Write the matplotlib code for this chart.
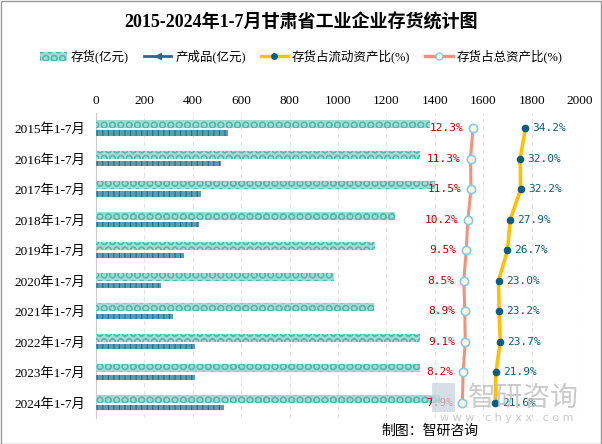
import numpy as np
import matplotlib.pyplot as plt
from matplotlib.lines import Line2D
from matplotlib.patches import Patch, Rectangle

plt.rcParams['font.family'] = ['Liberation Serif', 'Noto Sans CJK SC', 'DejaVu Sans']
plt.rcParams['hatch.linewidth'] = 0.8

years = ['2015年1-7月', '2016年1-7月', '2017年1-7月', '2018年1-7月', '2019年1-7月',
         '2020年1-7月', '2021年1-7月', '2022年1-7月', '2023年1-7月', '2024年1-7月']
inventory = [1380, 1339, 1401, 1236, 1153, 983, 1149, 1339, 1339, 1421]
finished = [545, 517, 434, 426, 364, 269, 318, 409, 409, 529]
ratio_current = [34.2, 32.0, 32.2, 27.9, 26.7, 23.0, 23.2, 23.7, 21.9, 21.6]
ratio_total = [12.3, 11.3, 11.5, 10.2, 9.5, 8.5, 8.9, 9.1, 8.2, 7.9]

c_inv = '#9edcd4'
c_inv_edge = '#56b8ac'
c_fin = '#1d6f8e'
c_yellow = '#ffc000'
c_dot = '#0d5d7c'
c_salmon = '#ee9380'
c_red = '#c00000'

fig = plt.figure(figsize=(6.02, 4.44), dpi=100)
ax = fig.add_axes([0.1595, 0.0586, 0.804, 0.687])

y = np.arange(len(years))
ax.barh(y - 0.13, inventory, height=0.27, color=c_inv, edgecolor=c_inv_edge,
        hatch='OO', linewidth=0, zorder=3)
ax.barh(y + 0.16, finished, height=0.17, color='#5c9cb5', edgecolor=c_fin,
        hatch='|||', linewidth=0, zorder=3)

# ratio lines on a secondary x scale
ax2 = ax.twiny()
ax2.set_xlim(-145, 57)
ax2.set_ylim(9.5, -0.5)
ax2.axis('off')

ax.set_xlim(0, 2000)
ax.set_ylim(9.5, -0.5)
ax.set_xticks(np.arange(0, 2001, 200))
ax.xaxis.set_ticks_position('top')
ax.xaxis.set_label_position('top')
ax.tick_params(axis='x', length=0, pad=4, labelsize=9.5, labeltop=True, labelbottom=False)
ax.set_yticks(y)
ax.set_yticklabels(years)
ax.tick_params(axis='y', length=0, pad=8, labelsize=9.5)
ax.grid(axis='x', color='#e3e3e3', linestyle=(0, (4, 3)), linewidth=0.8, zorder=0)
for s in ['top', 'right', 'bottom']:
    ax.spines[s].set_visible(False)
ax.spines['left'].set_color('#cccccc')

ax2.plot(ratio_total, y, color=c_salmon, linewidth=2.2, zorder=4,
         marker='o', markersize=6, markerfacecolor='#fdf8e4',
         markeredgecolor='#86c9e6', markeredgewidth=1.2)
ax2.plot(ratio_current, y, color=c_yellow, linewidth=2.6, zorder=4,
         marker='o', markersize=4.5, markerfacecolor=c_dot, markeredgecolor=c_dot)
for yi, v in zip(y, ratio_total):
    ax2.text(v - 4, yi, f'{v:.1f}%', color=c_red, fontsize=8, ha='right', va='center',
             family='DejaVu Sans Mono', zorder=5)
for yi, v in zip(y, ratio_current):
    ax2.text(v + 3, yi, f'{v:.1f}%', color=c_dot, fontsize=8, ha='left', va='center',
             family='DejaVu Sans Mono', zorder=5)

fig.text(0.5, 0.950, '2015-2024年1-7月甘肃省工业企业存货统计图', ha='center', va='center',
         fontsize=13, fontweight='bold')

handles = [
    Patch(facecolor=c_inv, edgecolor=c_inv_edge, hatch='OO', linewidth=0),
    Line2D([0], [0], color=c_fin, linewidth=2, marker='<', markersize=4),
    Line2D([0], [0], color=c_yellow, linewidth=2.5, marker='o', markersize=4,
           markerfacecolor=c_dot, markeredgecolor=c_dot),
    Line2D([0], [0], color=c_salmon, linewidth=2.5, marker='o', markersize=5,
           markerfacecolor='#fdf8e4', markeredgecolor='#86c9e6'),
]
labels = ['存货(亿元)', '产成品(亿元)', '存货占流动资产比(%)', '存货占总资产比(%)']
fig.legend(handles, labels, loc='center', bbox_to_anchor=(0.5, 0.872), ncol=4,
           frameon=False, fontsize=9, handlelength=2.2, handletextpad=0.3,
           columnspacing=1.2)

# watermark and source
fig.patches.append(Rectangle((0.718, 0.072), 0.038, 0.065, transform=fig.transFigure,
                             facecolor='#c9d3e0', edgecolor='none', alpha=0.75, zorder=6))
fig.text(0.870, 0.103, '智研咨询', ha='center', va='center', fontsize=20,
         color='#bdbdbd', alpha=0.8, family='Noto Sans CJK SC', zorder=6)
fig.text(0.842, 0.058, 'w w w . c h y x x . c o m', ha='center', va='center',
         fontsize=8, color='#c8c8c8', family='DejaVu Sans', zorder=6)
fig.text(0.714, 0.029, '制图：智研咨询', ha='center', va='center', fontsize=10,
         family='Noto Sans CJK SC')

fig.patches.append(Rectangle((0.001, 0.001), 0.997, 0.997, transform=fig.transFigure,
                             fill=False, edgecolor='#999999', linewidth=1))

fig.savefig('out.png', dpi=100)
